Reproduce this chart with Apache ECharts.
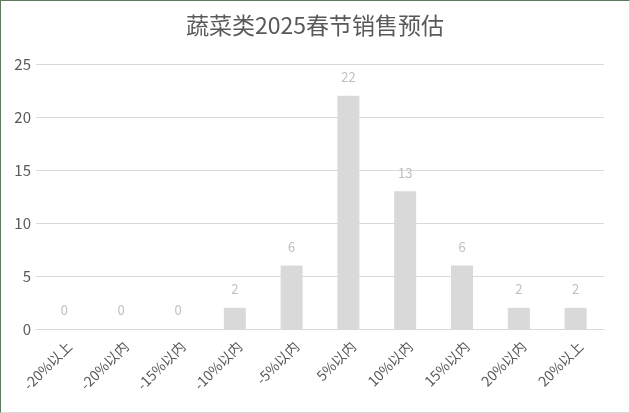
<!DOCTYPE html>
<html><head><meta charset="utf-8">
<script src="https://cdn.jsdelivr.net/npm/echarts@6/dist/echarts.min.js"></script>
<style>
html,body{margin:0;padding:0;background:#fff;}
#c{width:628px;height:411px;border-left:1px solid #5b7b5b;border-top:1px solid #5b7b5b;border-right:1px solid #d9d9d9;border-bottom:1px solid #d9d9d9;}
</style></head>
<body><div id="c"></div>
<script>
const title = '蔬菜类2025春节销售预估';
const categories = ['-20%以上','-20%以内','-15%以内','-10%以内','-5%以内','5%以内','10%以内','15%以内','20%以内','20%以上'];
const values = [0,0,0,2,6,22,13,6,2,2];
const yTicks = {min:0,max:25,interval:5};
const chart = echarts.init(document.getElementById('c'));
chart.setOption({
  animation:false,
  title:{text:title,left:'center',top:8,textStyle:{fontFamily:'Noto Sans CJK SC',fontSize:23,fontWeight:'normal',color:'#595959'}},
  grid:{left:35,right:25,top:63,bottom:83},
  xAxis:{type:'category',data:categories,
    axisLine:{lineStyle:{color:'#d9d9d9'}},axisTick:{show:false},
    axisLabel:{rotate:45,interval:0,color:'#595959',fontSize:14,fontFamily:'Noto Sans CJK SC',margin:10,verticalAlign:'top'}},
  yAxis:{type:'value',min:yTicks.min,max:yTicks.max,interval:yTicks.interval,
    axisLine:{show:false},axisTick:{show:false},
    axisLabel:{color:'#595959',fontSize:15,fontFamily:'Noto Sans CJK SC',margin:5},
    splitLine:{lineStyle:{color:'#d9d9d9'}}},
  series:[{type:'bar',data:values,barWidth:22,itemStyle:{color:'#d9d9d9'},
    label:{show:true,position:'top',distance:12,color:'#bfbfbf',fontSize:13,fontFamily:'Noto Sans CJK SC'}}]
});
</script></body></html>
